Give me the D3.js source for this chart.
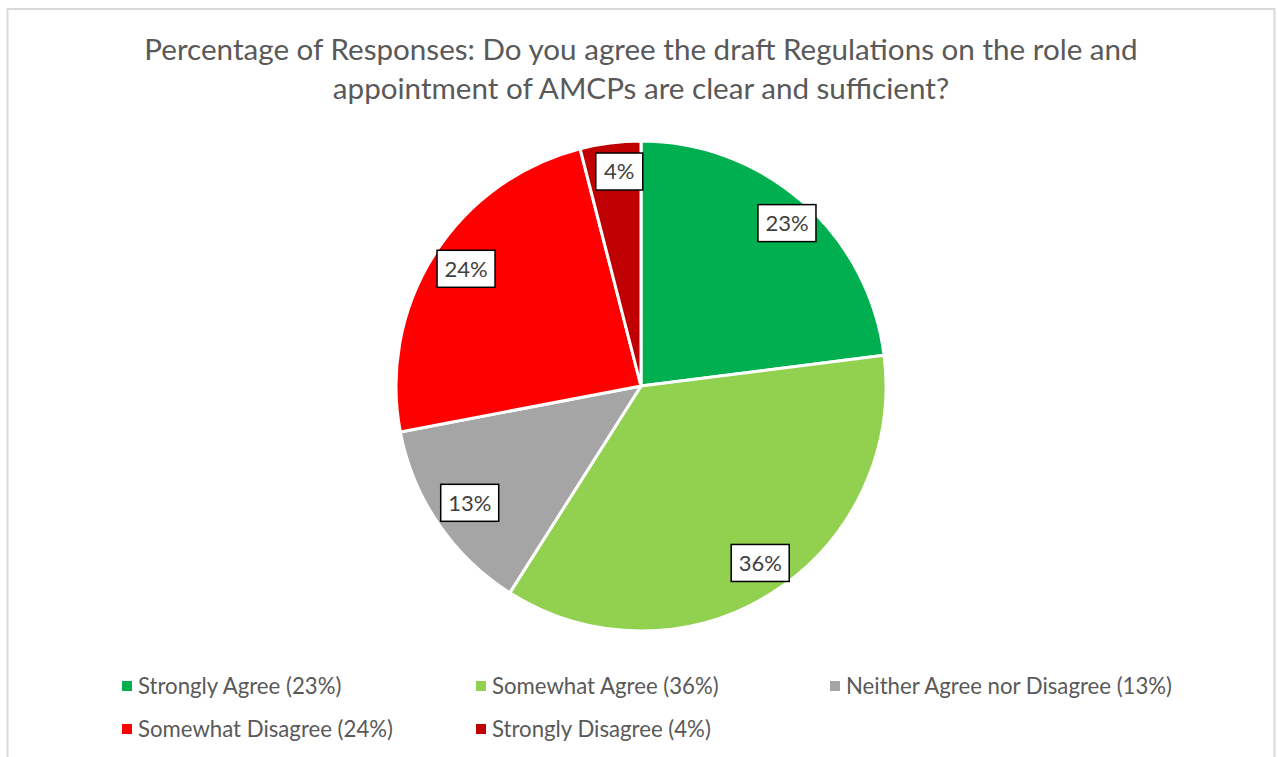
<!DOCTYPE html>
<html>
<head>
<meta charset="utf-8">
<script src="https://cdn.jsdelivr.net/npm/d3@7"></script>
<style>
  html, body { margin: 0; padding: 0; background: #fff; }
  svg { display: block; font-family: Lato, "Open Sans", sans-serif; }
</style>
</head>
<body>
<svg id="chart" width="1277" height="757"></svg>
<script>
// Survey answers, in the order they go round the pie (clockwise from 12 o'clock)
const categories = [
  "Strongly Agree",
  "Somewhat Agree",
  "Neither Agree nor Disagree",
  "Somewhat Disagree",
  "Strongly Disagree"
];
const percentages = [23, 36, 13, 24, 4];
const sliceColors = ["#00B050", "#92D050", "#A5A5A5", "#FF0000", "#C00000"];
const titleLines = [
  "Percentage of Responses: Do you agree the draft Regulations on the role and",
  "appointment of AMCPs are clear and sufficient?"
];

const W = 1277, H = 757;
const svg = d3.select("#chart");

// chart frame
svg.append("rect")
  .attr("x", 7.5).attr("y", 9).attr("width", 1267).attr("height", 760)
  .attr("fill", "#fff").attr("stroke", "#D9D9D9").attr("stroke-width", 2);

// title
svg.append("g").selectAll("text")
  .data(titleLines).join("text")
  .attr("x", 641).attr("y", (d, i) => 60 + i * 39)
  .attr("text-anchor", "middle")
  .attr("font-size", 29.6)
  .attr("fill", "#595959")
  .text(d => d);

// pie
const cx = 641, cy = 386, R = 245;
const data = categories.map((c, i) => ({ name: c, value: percentages[i], color: sliceColors[i] }));
const pie = d3.pie().value(d => d.value).sort(null);
const arcs = pie(data);
const arc = d3.arc().innerRadius(0).outerRadius(R);
const labelArc = d3.arc().innerRadius(R * 0.87).outerRadius(R * 0.87);

const g = svg.append("g").attr("transform", `translate(${cx},${cy})`);
g.selectAll("path.slice")
  .data(arcs).join("path")
  .attr("class", "slice")
  .attr("d", arc)
  .attr("fill", d => d.data.color)
  .attr("stroke", "#fff")
  .attr("stroke-width", 3)
  .attr("stroke-linejoin", "round");

// value labels in boxed callouts
const lab = g.selectAll("g.lbl").data(arcs).join("g")
  .attr("class", "lbl")
  .attr("transform", d => {
    const [x, y] = labelArc.centroid(d);
    return `translate(${x + 5},${y - 3})`;
  });
lab.append("rect")
  .attr("x", d => d.data.value < 10 ? -23.5 : -29)
  .attr("y", -18.5)
  .attr("width", d => d.data.value < 10 ? 47 : 58)
  .attr("height", 37)
  .attr("fill", "#fff")
  .attr("stroke", "#000")
  .attr("stroke-width", 1.5);
lab.append("text")
  .attr("text-anchor", "middle")
  .attr("dy", "0.36em")
  .attr("font-size", 22)
  .attr("fill", "#404040")
  .text(d => d.data.value + "%");

// legend
const legendX = [122, 476, 830];
const legendY = [686, 729];
const leg = svg.append("g").selectAll("g")
  .data(data).join("g")
  .attr("transform", (d, i) => `translate(${legendX[i % 3]},${legendY[Math.floor(i / 3)]})`);
leg.append("rect")
  .attr("x", 0).attr("y", -5).attr("width", 10).attr("height", 10)
  .attr("fill", d => d.color);
leg.append("text")
  .attr("x", 16).attr("dy", "0.36em")
  .attr("font-size", 22.2)
  .attr("fill", "#595959")
  .text(d => `${d.name} (${d.value}%)`);
</script>
</body>
</html>
